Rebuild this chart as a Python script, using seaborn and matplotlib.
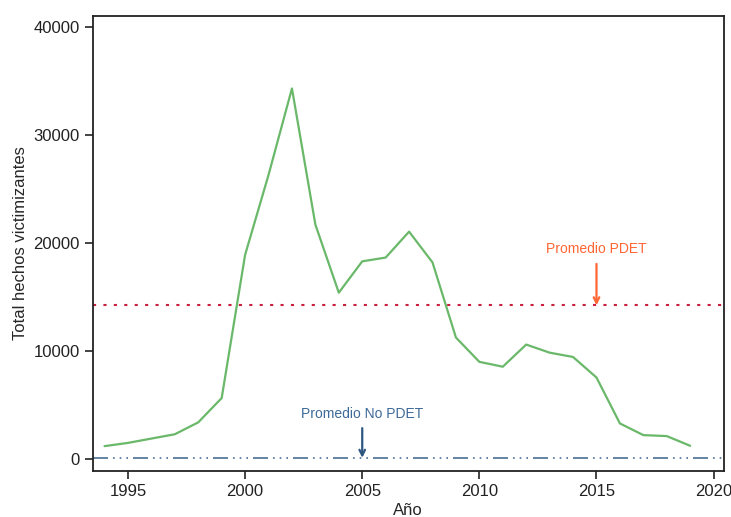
import matplotlib
matplotlib.use("Agg")
import matplotlib.pyplot as plt
import seaborn as sns
import pandas as pd

years = list(range(1994, 2020))
total = [1200, 1500, 1900, 2300, 3400, 5650, 18900, 26300, 34300, 21700, 15400,
         18300, 18650, 21050, 18200, 11250, 9000, 8550, 10600, 9850, 9450, 7550,
         3300, 2220, 2130, 1230]
prom_pdet = 14230
prom_no_pdet = 120

sns.set_style("ticks")
plt.rcParams['font.family'] = ['Liberation Sans Narrow', 'Liberation Sans', 'DejaVu Sans']

df = pd.DataFrame({"Año": years, "Total": total})

fig = plt.figure(figsize=(7.31, 5.17), dpi=100)
ax = fig.add_axes([0.127, 0.089, 0.863, 0.881])

sns.lineplot(data=df, x="Año", y="Total", ax=ax, color="#6ab86a", linewidth=1.6)
ax.axhline(prom_pdet, color="#c8203f", linestyle=(0, (1.5, 3.5)), linewidth=1.5)
ax.axhline(prom_no_pdet, color="#4a6f96", linestyle=(0, (9, 3, 1, 3, 1, 3, 1, 3)), linewidth=1.2)

ax.annotate("Promedio PDET", xy=(2015, prom_pdet), xytext=(2015, 19400),
            ha="center", va="center", color="#ff6633", fontsize=10,
            arrowprops=dict(arrowstyle="->", color="#ff6633", lw=1.6, shrinkA=3, shrinkB=0))
ax.annotate("Promedio No PDET", xy=(2005, prom_no_pdet), xytext=(2005, 4200),
            ha="center", va="center", color="#3d6a99", fontsize=10,
            arrowprops=dict(arrowstyle="->", color="#2d5680", lw=1.6, shrinkA=3, shrinkB=0))

ax.set_xlim(1993.5, 2020.43)
ax.set_ylim(-1100, 41050)
ax.set_xticks([1995, 2000, 2005, 2010, 2015, 2020])
ax.set_yticks([0, 10000, 20000, 30000, 40000])
ax.tick_params(axis="both", labelsize=12, length=6, width=1.2, colors="#222222", direction="out")
for s in ax.spines.values():
    s.set_visible(True)
    s.set_color("#222222")
    s.set_linewidth(1.3)
ax.set_xlabel("Año", fontsize=12, labelpad=3)
ax.set_ylabel("Total hechos victimizantes", fontsize=12, labelpad=4)

fig.savefig("out.png", dpi=100)
